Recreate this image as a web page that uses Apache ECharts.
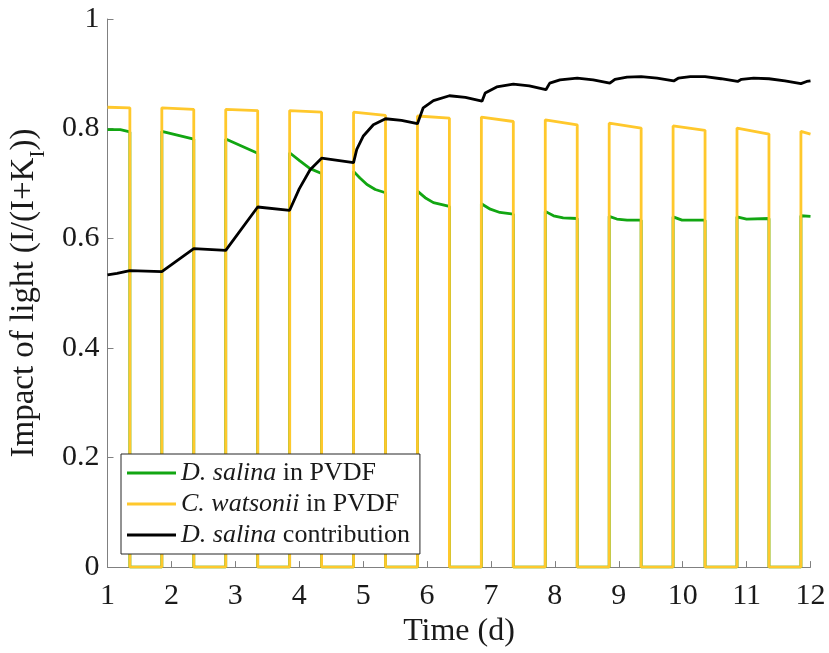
<!DOCTYPE html>
<html>
<head>
<meta charset="utf-8">
<script src="https://cdn.jsdelivr.net/npm/echarts@6/dist/echarts.min.js"></script>
<style>html,body{margin:0;padding:0;background:#fff}#c{width:829px;height:653px}</style>
</head>
<body>
<div id="c"></div>
<script>
// ---- data ----
const xTicks = [1,2,3,4,5,6,7,8,9,10,11,12];
const yTicks = [0,0.2,0.4,0.6,0.8,1];
const lightOn  = [1.0, 1.85, 2.85, 3.85, 4.85, 5.85, 6.85, 7.85, 8.85, 9.85, 10.85, 11.85];
const lightOff = [1.35, 2.35, 3.35, 4.35, 5.35, 6.35, 7.35, 8.35, 9.35, 10.35, 11.35, 12.0];
// C. watsonii in PVDF : value at start / end of each light period (0 in the dark)
const watsoniiStart = [0.839,0.838,0.835,0.833,0.830,0.823,0.821,0.816,0.810,0.805,0.801,0.795];
const watsoniiEnd   = [0.838,0.835,0.833,0.830,0.824,0.819,0.813,0.807,0.801,0.797,0.790,0.790];
// D. salina in PVDF : points inside each light period (0 in the dark)
const salinaPeriods = [
  [[1.0,0.798],[1.2,0.798],[1.35,0.794]],
  [[1.85,0.795],[2.35,0.781]],
  [[2.85,0.781],[3.35,0.755]],
  [[3.85,0.756],[4.01,0.741],[4.17,0.727],[4.35,0.718]],
  [[4.85,0.722],[4.95,0.710],[5.06,0.698],[5.19,0.689],[5.35,0.683]],
  [[5.85,0.686],[5.97,0.674],[6.10,0.665],[6.35,0.658]],
  [[6.85,0.663],[6.99,0.653],[7.14,0.647],[7.35,0.644]],
  [[7.85,0.649],[7.98,0.641],[8.13,0.637],[8.35,0.636]],
  [[8.85,0.640],[8.97,0.635],[9.13,0.633],[9.35,0.633]],
  [[9.85,0.639],[9.99,0.633],[10.35,0.633]],
  [[10.85,0.639],[11.0,0.635],[11.35,0.636]],
  [[11.85,0.641],[12.0,0.640]]
];
// D. salina contribution
const contribution = [
  [1.0,0.533],[1.15,0.536],[1.35,0.541],
  [1.85,0.539],[2.35,0.581],
  [2.85,0.578],[3.35,0.657],
  [3.85,0.651],[4.0,0.690],[4.17,0.725],[4.35,0.746],
  [4.85,0.738],[4.90,0.762],[5.0,0.786],[5.16,0.807],[5.35,0.818],
  [5.6,0.815],[5.85,0.809],[5.94,0.838],[6.10,0.851],[6.35,0.860],
  [6.6,0.857],[6.86,0.850],[6.91,0.865],[7.09,0.876],[7.35,0.881],
  [7.6,0.878],[7.86,0.871],[7.92,0.883],[8.08,0.889],[8.35,0.892],
  [8.6,0.889],[8.86,0.883],[8.94,0.890],[9.13,0.894],[9.35,0.895],
  [9.6,0.892],[9.86,0.887],[9.93,0.892],[10.12,0.895],[10.35,0.895],
  [10.6,0.891],[10.86,0.886],[10.92,0.890],[11.11,0.892],[11.35,0.891],
  [11.6,0.887],[11.85,0.882],[11.94,0.886],[12.0,0.887]
];
const seriesNames = ['D. salina in PVDF','C. watsonii in PVDF','D. salina contribution'];

// ---- build step series ----
function buildWatsonii(){
  const out = [];
  for (let i = 0; i < lightOn.length; i++) {
    out.push([lightOn[i], watsoniiStart[i]]);
    out.push([lightOff[i], watsoniiEnd[i]]);
    if (i + 1 < lightOn.length) {
      out.push([lightOff[i], 0]);
      out.push([lightOn[i+1], 0]);
    }
  }
  return out;
}
function buildSalina(){
  const out = [];
  for (let i = 0; i < salinaPeriods.length; i++) {
    salinaPeriods[i].forEach(p => out.push(p));
    if (i + 1 < lightOn.length) {
      out.push([lightOff[i], 0]);
      out.push([lightOn[i+1], 0]);
    }
  }
  return out;
}

const FONT = 'Liberation Serif';
const TXT = '#1a1a1a';
const AX = '#808080';
const chart = echarts.init(document.getElementById('c'), null, {renderer:'canvas'});
chart.setOption({
  animation: false,
  backgroundColor: '#fff',
  grid: {left: 107.5, right: 18.5, top: 19, bottom: 84},
  legend: {
    orient: 'vertical',
    left: 121, top: 454,
    padding: [6, 10, 6, 6],
    itemGap: 5,
    icon: 'rect',
    itemWidth: 49, itemHeight: 3,
    backgroundColor: '#fff',
    borderColor: '#262626', borderWidth: 1,
    data: seriesNames,
    textStyle: {fontFamily: FONT, fontSize: 26, color: TXT,
      rich: {i: {fontFamily: FONT, fontSize: 26, fontStyle: 'italic', color: TXT}}},
    formatter: function(name){
      const m = name.match(/^([A-Z]\. [a-z]+)(.*)$/);
      return m ? '{i|' + m[1] + '}' + m[2] : name;
    }
  },
  xAxis: {
    type: 'value', min: xTicks[0], max: xTicks[xTicks.length-1], interval: 1,
    name: 'Time (d)', nameLocation: 'middle', nameGap: 45,
    nameTextStyle: {fontFamily: FONT, fontSize: 32, color: TXT},
    axisLine: {show: true, lineStyle: {color: AX, width: 1}},
    axisTick: {show: true, inside: true, length: 6, lineStyle: {color: AX}},
    axisLabel: {fontFamily: FONT, fontSize: 30, color: TXT, margin: 14,
      formatter: v => xTicks.includes(v) ? String(v) : ''},
    splitLine: {show: false}
  },
  yAxis: {
    type: 'value', min: 0, max: 1, interval: 0.2,
    name: 'Impact of light (I/(I+K{sub|I}))', nameLocation: 'middle', nameGap: 59,
    nameTextStyle: {fontFamily: FONT, fontSize: 33, color: TXT,
      rich: {sub: {fontFamily: FONT, fontSize: 21, color: TXT, padding: [27,0,0,0]}}},
    axisLine: {show: true, lineStyle: {color: AX, width: 1}},
    axisTick: {show: true, inside: true, length: 6, lineStyle: {color: AX}},
    axisLabel: {fontFamily: FONT, fontSize: 30, color: TXT, margin: 8,
      formatter: v => { const t = yTicks.find(y => Math.abs(y - v) < 1e-9); return t === undefined ? '' : String(t); }},
    splitLine: {show: false}
  },
  series: [
    {name: seriesNames[0], type: 'line', data: buildSalina(), symbol: 'none',
      lineStyle: {color: '#12A612', width: 2.8}, itemStyle: {color: '#12A612'}},
    {name: seriesNames[1], type: 'line', data: buildWatsonii(), symbol: 'none',
      lineStyle: {color: '#FFC82C', width: 2.8}, itemStyle: {color: '#FFC82C'}},
    {name: seriesNames[2], type: 'line', data: contribution, symbol: 'none',
      lineStyle: {color: '#000', width: 2.8}, itemStyle: {color: '#000'}}
  ]
});
</script>
</body>
</html>
